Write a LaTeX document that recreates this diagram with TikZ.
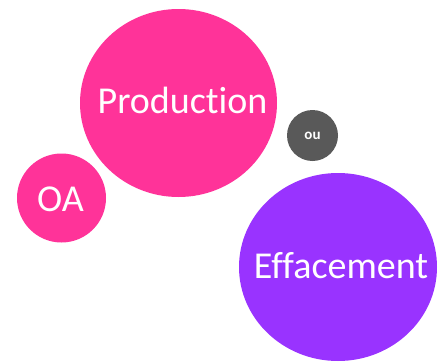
\documentclass[tikz,border=0pt]{standalone}
\usepackage{fontspec}
\setmainfont[Ligatures={NoCommon}]{Carlito}
\usetikzlibrary{shapes.geometric}
\definecolor{pinkc}{HTML}{FF3399}
\definecolor{purplec}{HTML}{9933FF}
\definecolor{grayc}{HTML}{595959}
\begin{document}
\begin{tikzpicture}[x=1pt,y=-1pt,
  bubble/.style={ellipse,inner sep=0pt,draw=none},
  btext/.style={text=white,anchor=base,inner sep=0pt,font=\fontsize{38}{38}\selectfont}]
\useasboundingbox (0,0) rectangle (442,362);
\node[bubble,fill=pinkc,minimum width=197pt,minimum height=188pt] (prod) at (178.5,103) {};
\node[bubble,fill=pinkc,minimum width=89pt,minimum height=89pt] (oa) at (61.5,198) {};
\node[bubble,fill=grayc,minimum width=51pt,minimum height=51pt] (ou) at (312.5,135.5) {};
\node[bubble,fill=purplec,minimum width=198pt,minimum height=188pt] (eff) at (338,267) {};
\node[btext] (tprod) at (182.5,113) {Production};
\node[btext] (toa) at (60.5,211) {OA};
\node[btext] (teff) at (341,278) {Effacement};
\node[text=white,anchor=base,inner sep=0pt,font=\bfseries\fontsize{15}{15}\selectfont] (tou) at (312.5,139) {ou};
\end{tikzpicture}
\end{document}
